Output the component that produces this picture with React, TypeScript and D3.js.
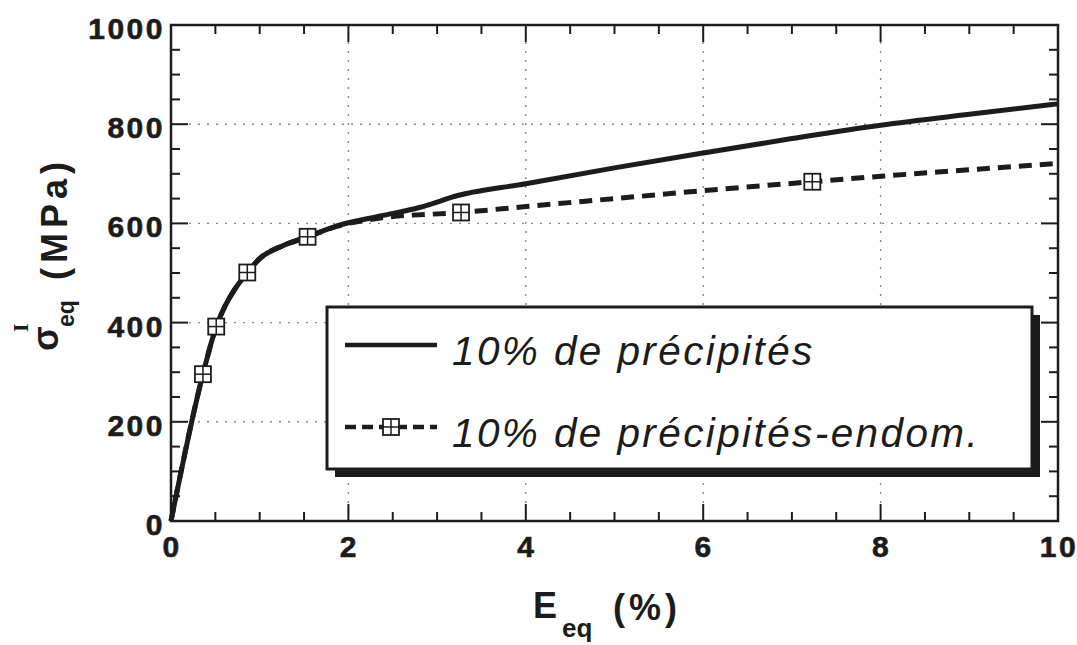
import React from 'react';
import * as d3 from 'd3';

// ---- data ----
const xTicks = [0, 2, 4, 6, 8, 10];
const yTicks = [0, 200, 400, 600, 800, 1000];
const xGrid = [2, 4, 6, 8];
const yGrid = [200, 400, 600, 800];

const solidX = [0, 0.36, 0.51, 0.6, 0.7, 0.86, 1.0, 1.26, 1.54, 1.87, 2.36, 2.8, 3.0, 3.15, 4, 5, 6, 7, 8, 9, 10];
const solidY = [0, 296, 392, 430, 462, 501, 529, 555, 573, 595, 615, 632, 643, 652, 680, 712, 742, 771, 798, 820, 841];

const endomX = [0, 0.36, 0.51, 0.6, 0.7, 0.86, 1.0, 1.26, 1.54, 1.87, 2.36, 3.27, 4, 5, 6, 7.23, 8, 9, 10];
const endomY = [0, 296, 392, 430, 462, 501, 529, 555, 573, 594, 611, 622, 634, 650, 666, 684, 695, 708, 721];

const markerX = [0.36, 0.51, 0.86, 1.54, 3.27, 7.23];
const markerY = [296, 392, 501, 573, 622, 684];

const legendLabels = ['10% de précipités', '10% de précipités-endom.'];

const INK = '#1c1c1c';

function Marker({ cx, cy, s = 16 }: { cx: number; cy: number; s?: number }) {
  const h = s / 2;
  return (
    <g>
      <rect x={cx - h} y={cy - h} width={s} height={s} fill="#fff" stroke={INK} strokeWidth={1.8} />
      <line x1={cx - h} x2={cx + h} y1={cy} y2={cy} stroke={INK} strokeWidth={1.5} />
      <line x1={cx} x2={cx} y1={cy - h} y2={cy + h} stroke={INK} strokeWidth={1.5} />
    </g>
  );
}

export default function App() {
  const x = d3.scaleLinear().domain([0, 10]).range([171, 1058]);
  const y = d3.scaleLinear().domain([0, 1000]).range([521, 25]);

  const line = d3
    .line<[number, number]>()
    .x((d) => x(d[0]))
    .y((d) => y(d[1]))
    .curve(d3.curveMonotoneX);

  const solidPath = line(solidX.map((v, i) => [v, solidY[i]] as [number, number])) || '';
  const endomPath = line(endomX.map((v, i) => [v, endomY[i]] as [number, number])) || '';

  const xMinor = d3.range(0, 10.001, 0.5);
  const yMinor = d3.range(0, 1000.1, 50);

  const [x0, x1] = x.range();
  const [y0, y1] = y.range();

  const tickFont = "'Liberation Sans', Arial, Helvetica, sans-serif";

  return (
    <svg
      width={1077}
      height={645}
      style={{ position: 'absolute', left: 0, top: 0, background: '#fff' }}
      fontFamily={tickFont}
    >
      <rect x={0} y={0} width={1077} height={645} fill="#fff" />
      {/* grid */}
      {xGrid.map((t) => (
        <line key={'gx' + t} x1={x(t)} x2={x(t)} y1={y0} y2={y1} stroke="#8a8a8a" strokeWidth={1.4} strokeDasharray="2,7" />
      ))}
      {yGrid.map((t) => (
        <line key={'gy' + t} x1={x0} x2={x1} y1={y(t)} y2={y(t)} stroke="#8a8a8a" strokeWidth={1.4} strokeDasharray="2,7" />
      ))}

      {/* ticks: all four sides, inward */}
      {xMinor.map((t) => {
        const major = xTicks.includes(t);
        const len = major ? 17 : 9;
        return (
          <g key={'xt' + t}>
            <line x1={x(t)} x2={x(t)} y1={y0} y2={y0 - len} stroke={INK} strokeWidth={2} />
            <line x1={x(t)} x2={x(t)} y1={y1} y2={y1 + len} stroke={INK} strokeWidth={2} />
          </g>
        );
      })}
      {yMinor.map((t) => {
        const major = yTicks.includes(t);
        const len = major ? 17 : 9;
        return (
          <g key={'yt' + t}>
            <line x1={x0} x2={x0 + len} y1={y(t)} y2={y(t)} stroke={INK} strokeWidth={2} />
            <line x1={x1} x2={x1 - len} y1={y(t)} y2={y(t)} stroke={INK} strokeWidth={2} />
          </g>
        );
      })}

      {/* curves */}
      <path d={endomPath} fill="none" stroke={INK} strokeWidth={5} strokeDasharray="13,8" />
      <path d={solidPath} fill="none" stroke={INK} strokeWidth={5} strokeLinejoin="round" />
      {markerX.map((v, i) => (
        <Marker key={'m' + i} cx={x(v)} cy={y(markerY[i])} />
      ))}

      {/* frame */}
      <rect x={x0} y={y1} width={x1 - x0} height={y0 - y1} fill="none" stroke={INK} strokeWidth={2.5} />

      {/* tick labels */}
      {yTicks.map((t) => (
        <text key={'yl' + t} x={165} y={y(t) + 14} textAnchor="end" fontSize={30} fontWeight="bold" letterSpacing={2.5} fill={INK} stroke={INK} strokeWidth={0.6}>
          {t}
        </text>
      ))}
      {xTicks.map((t) => (
        <text key={'xl' + t} x={x(t) + 1} y={557} textAnchor="middle" fontSize={30} fontWeight="bold" letterSpacing={2.5} fill={INK} stroke={INK} strokeWidth={0.6}>
          {t}
        </text>
      ))}

      {/* x title */}
      <text x={533} y={618} fontSize={36} fontWeight="bold" fill={INK}>E</text>
      <text x={562} y={637} fontSize={26} fontWeight="bold" fill={INK}>eq</text>
      <text x={613} y={620} fontSize={36} fontWeight="bold" letterSpacing={4} fill={INK}>(%)</text>

      {/* y title */}
      <text transform="translate(58,351) rotate(-90)" fontSize={36} fontWeight="bold" fill={INK}>σ</text>
      <text transform="translate(74,327) rotate(-90)" fontSize={23} fontWeight="bold" fill={INK}>eq</text>
      <text transform="translate(28,332) rotate(-90)" fontSize={22} fontWeight="bold" fontFamily="'Liberation Serif', serif" fill={INK}>I</text>
      <text transform="translate(67,280) rotate(-90)" fontSize={36} fontWeight="bold" letterSpacing={5} fill={INK}>(MPa)</text>

      {/* legend */}
      <rect x={335} y={315} width={705} height={162} fill={INK} />
      <rect x={327} y={307} width={705} height={162} fill="#fff" stroke={INK} strokeWidth={3} />
      <line x1={345} x2={437} y1={345} y2={345} stroke={INK} strokeWidth={4.5} />
      <text x={452} y={365} fontSize={40.5} fontStyle="italic" letterSpacing={2.4} fill={INK}>{legendLabels[0]}</text>
      <line x1={345} x2={437} y1={427} y2={427} stroke={INK} strokeWidth={4.5} strokeDasharray="11,6" />
      <Marker cx={391} cy={427} />
      <text x={452} y={447} fontSize={40.5} fontStyle="italic" letterSpacing={2.4} fill={INK}>{legendLabels[1]}</text>
    </svg>
  );
}
